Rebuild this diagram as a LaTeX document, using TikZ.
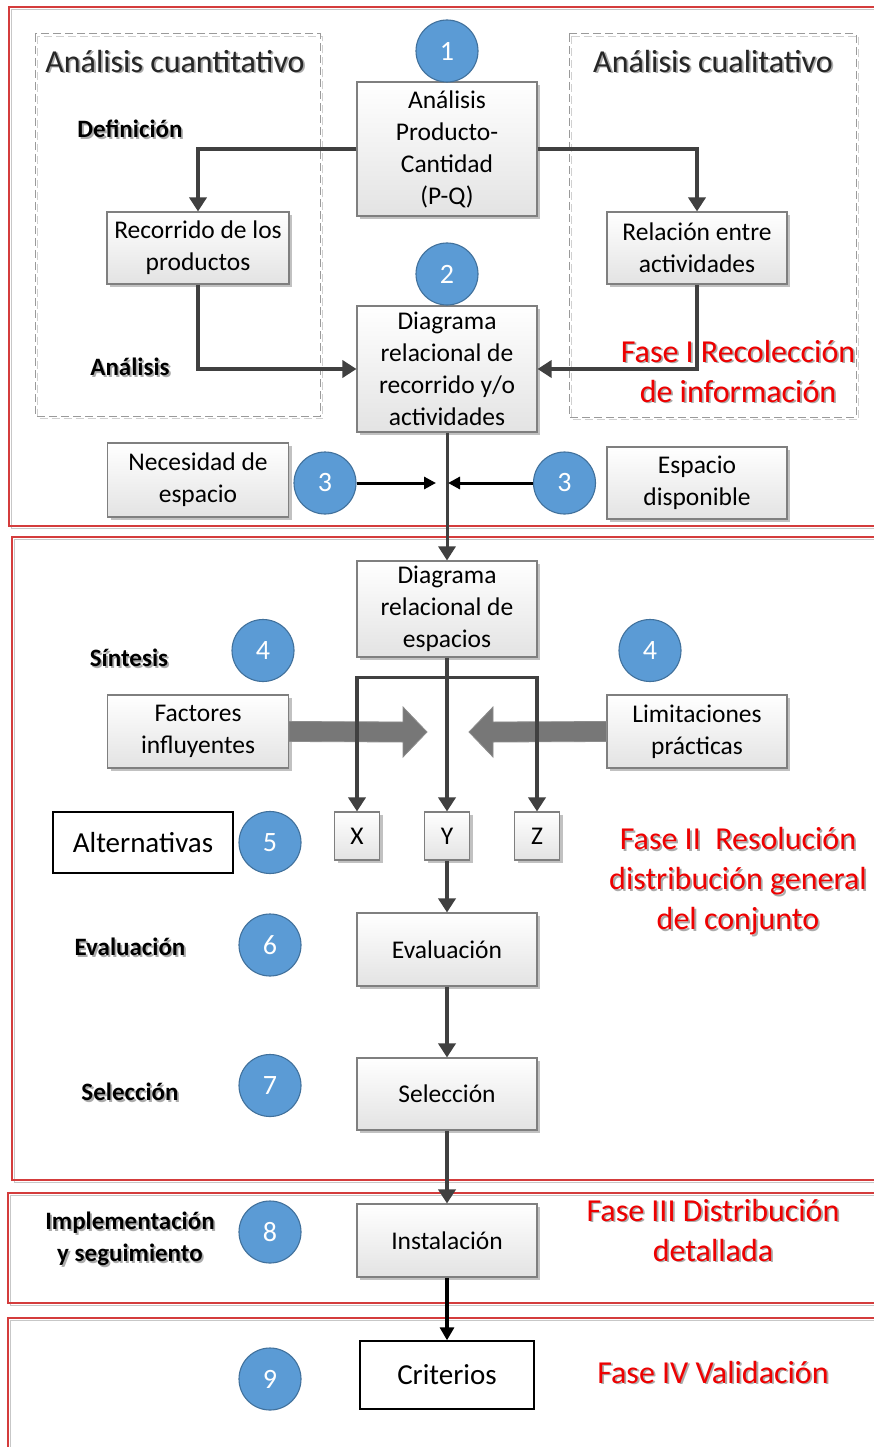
\documentclass[tikz,border=0pt]{standalone}
\usepackage{fontspec}
\setmainfont{Carlito}
\usetikzlibrary{arrows.meta,shadows,calc}

\definecolor{circfill}{HTML}{5B9BD5}
\definecolor{circline}{HTML}{41719C}
\definecolor{flowgray}{HTML}{404040}
\definecolor{boxline}{HTML}{7F7F7F}
\definecolor{phasered}{HTML}{D43C3C}
\definecolor{phasetext}{HTML}{EE0000}
\definecolor{txtshadow}{HTML}{ABABAB}
\definecolor{blockgray}{HTML}{777777}
\definecolor{dashgray}{HTML}{9A9A9A}
\definecolor{dashlight}{HTML}{D0D0D0}

% text with a soft grey shadow behind it
\newcommand\shd[1]{\makebox[0pt][l]{\kern1.8pt\raisebox{-1.8pt}{\color{txtshadow}#1}}#1}
\newcommand\bxfont{\fontsize{25.5}{32}\selectfont}
\newcommand\lblfont{\fontsize{25}{31}\selectfont\bfseries}
\newcommand\ttlfont{\fontsize{32}{38}\selectfont}
\newcommand\phfont{\fontsize{32}{40}\selectfont}

\tikzset{
  bx/.style={draw=boxline, line width=1.1pt, top color=white, bottom color=black!11,
    drop shadow={shadow xshift=3pt, shadow yshift=-3pt, fill=black!40, opacity=.6},
    align=center, inner sep=0pt, font=\bxfont},
  plainbox/.style={draw=black, line width=1.4pt, fill=white, inner sep=0pt, font=\fontsize{29}{34}\selectfont},
  num/.style={circle, fill=circfill, draw=circline, line width=1.1pt, minimum size=62pt,
    inner sep=0pt, text=white, font=\fontsize{28}{32}\selectfont},
  flow/.style={draw=flowgray, line width=3.6pt, -{Triangle[width=17pt,length=14pt]}},
  flowline/.style={draw=flowgray, line width=3.6pt},
  thinblack/.style={draw=black, line width=3pt, -{Triangle[width=12pt,length=12pt]}},
  lastflow/.style={draw=black, line width=3.2pt, -{Triangle[width=14pt,length=13pt]}},
  lbl/.style={font=\lblfont, align=center, inner sep=0pt},
  ttl/.style={font=\ttlfont, text=black!85, inner sep=0pt},
  phase/.style={font=\phfont, text=phasetext, align=center, inner sep=0pt},
  blockarrow/.style={fill=blockgray, draw=black!45, line width=0.8pt},
  frameshadow/.style={draw=black!22, line width=1.3pt},
  frameline/.style={draw=phasered, line width=1.1pt},
}

\begin{document}
\begin{tikzpicture}[x=1pt,y=-1pt]
\useasboundingbox (0,0) rectangle (873,1447);
\fill[white] (0,0) rectangle (873,1447);

% phase frames (open to the right)
\draw[frameshadow] (11.5,9.5) rectangle (890,528.5);
\draw[frameline] (9,7) rectangle (890,526);
\draw[frameshadow] (14.5,539.5) rectangle (890,1182.5);
\draw[frameline] (12,537) rectangle (890,1180);
\draw[frameshadow] (10.5,1195.5) rectangle (890,1305.5);
\draw[frameline] (8,1193) rectangle (890,1303);
\draw[frameshadow] (10.5,1320.5) rectangle (890,1460);
\draw[frameline] (8,1318) rectangle (890,1460);

% dashed analysis areas
\draw[dashlight, line width=1pt, dash pattern=on 8pt off 4pt] (37.5,36.5) rectangle (322.5,418.5);
\draw[dashgray, line width=1pt, dash pattern=on 8pt off 4pt] (35,34) rectangle (320,416);
\draw[dashlight, line width=1pt, dash pattern=on 8pt off 4pt] (571.5,36.5) rectangle (858.5,419.5);
\draw[dashgray, line width=1pt, dash pattern=on 8pt off 4pt] (569,34) rectangle (856,417);

\node[ttl] (tq) at (175,62) {\shd{Análisis cuantitativo}};
\node[ttl] (tc) at (713,62) {\shd{Análisis cualitativo}};

% process boxes
\node[bx, minimum width=180pt, minimum height=134pt] (pq) at (447,149) {Análisis\\Producto-\\Cantidad\\(P-Q)};
\node[bx, minimum width=182pt, minimum height=72pt] (rec) at (198,248) {Recorrido de los\\productos};
\node[bx, minimum width=180pt, minimum height=72pt] (rel) at (697,248) {Relación entre\\actividades};
\node[bx, minimum width=180pt, minimum height=126pt] (drr) at (447,369) {Diagrama\\relacional de\\recorrido y/o\\actividades};
\node[bx, minimum width=181pt, minimum height=74pt] (nec) at (198,480) {Necesidad de\\espacio};
\node[bx, minimum width=180pt, minimum height=72pt] (esp) at (697,483) {Espacio\\disponible};
\node[bx, minimum width=180pt, minimum height=96pt] (dre) at (447,609) {Diagrama\\relacional de\\espacios};
\node[bx, minimum width=181pt, minimum height=73pt] (fac) at (198,731.5) {Factores\\influyentes};
\node[bx, minimum width=180pt, minimum height=73pt] (lim) at (697,731.5) {Limitaciones\\prácticas};
\node[bx, minimum width=45pt, minimum height=48pt] (bX) at (357,836) {X};
\node[bx, minimum width=45pt, minimum height=48pt] (bY) at (447,836) {Y};
\node[bx, minimum width=45pt, minimum height=48pt] (bZ) at (537,836) {Z};
\node[plainbox, minimum width=180pt, minimum height=61pt] (alt) at (143,842.5) {Alternativas};
\node[bx, minimum width=180pt, minimum height=73pt] (eva) at (447,949.5) {Evaluación};
\node[bx, minimum width=180pt, minimum height=72pt] (sel) at (447,1094) {Selección};
\node[bx, minimum width=180pt, minimum height=73pt] (ins) at (447,1240.5) {Instalación};
\node[plainbox, minimum width=174pt, minimum height=68pt] (cri) at (447,1375) {Criterios};

% numbered steps
\node[num] (c1) at (447,51) {1};
\node[num] (c2) at (447,274) {2};
\node[num] (c3l) at (325,483) {3};
\node[num] (c3r) at (564.5,483) {3};
\node[num] (c4l) at (263,650.5) {4};
\node[num] (c4r) at (650,650.5) {4};
\node[num] (c5) at (270,842.5) {5};
\node[num] (c6) at (270,945) {6};
\node[num] (c7) at (270,1085.5) {7};
\node[num] (c8) at (270,1232) {8};
\node[num] (c9) at (270,1379) {9};

% stage labels
\node[lbl] (tdef) at (130,130) {\shd{Definición}};
\node[lbl] (tana) at (130,368) {\shd{Análisis}};
\node[lbl] (tsin) at (129,659) {\shd{Síntesis}};
\node[lbl] (teva) at (130,948) {\shd{Evaluación}};
\node[lbl] (tsel) at (130,1093) {\shd{Selección}};
\node[lbl, font=\fontsize{25}{32}\selectfont\bfseries] (timp) at (130,1240) {\shd{Implementación}\\\shd{y seguimiento}};

% phase titles
\node[phase] (f1) at (738,372) {\shd{Fase I Recolección}\\\shd{de información}};
\node[phase] (f2) at (738,882) {\shd{Fase II\ \ Resolución}\\\shd{distribución general}\\\shd{del conjunto}};
\node[phase] (f3) at (713,1231) {\shd{Fase III Distribución}\\\shd{detallada}};
\node[phase] (f4) at (713,1373) {\shd{Fase IV Validación}};

% broad arrows for influencing factors and limitations
\coordinate (ltip) at (427,732);
\coordinate (rtip) at (469,732);
\filldraw[blockarrow] ($(fac.east)+(0,-10)$) -- ($(ltip)+(-24,-10)$) -- ($(ltip)+(-24,-25)$) -- (ltip)
  -- ($(ltip)+(-24,25)$) -- ($(ltip)+(-24,10)$) -- ($(fac.east)+(0,10)$) -- cycle;
\filldraw[blockarrow] ($(lim.west)+(0,-10)$) -- ($(rtip)+(24,-10)$) -- ($(rtip)+(24,-25)$) -- (rtip)
  -- ($(rtip)+(24,25)$) -- ($(rtip)+(24,10)$) -- ($(lim.west)+(0,10)$) -- cycle;

% connectors
\draw[flow] (pq.west) -| (rec.north);
\draw[flow] (pq.east) -| (rel.north);
\draw[flow] (rec.south) |- (drr.west);
\draw[flow] (rel.south) |- (drr.east);
\draw[flow, line width=3pt] (drr.south) -- (dre.north);

\coordinate (m1) at (436,483);
\coordinate (m2) at (448,483);
\draw[thinblack] (c3l.east) -- (m1);
\draw[thinblack] (c3r.west) -- (m2);

\path (bX.north) ++(0,-134) coordinate (bl);
\path (bZ.north) ++(0,-134) coordinate (br);
\draw[flowline, {Triangle[width=17pt,length=14pt]}-{Triangle[width=17pt,length=14pt]}, line join=miter]
  (bX.north) -- (bl) -- (br) -- (bZ.north);
\draw[flow] (dre.south) -- (bY.north);
\draw[flow] (bY.south) -- (eva.north);
\draw[flow] (eva.south) -- (sel.north);
\draw[flow] (sel.south) -- (ins.north);
\draw[lastflow] (ins.south) -- (cri.north);
\end{tikzpicture}
\end{document}
